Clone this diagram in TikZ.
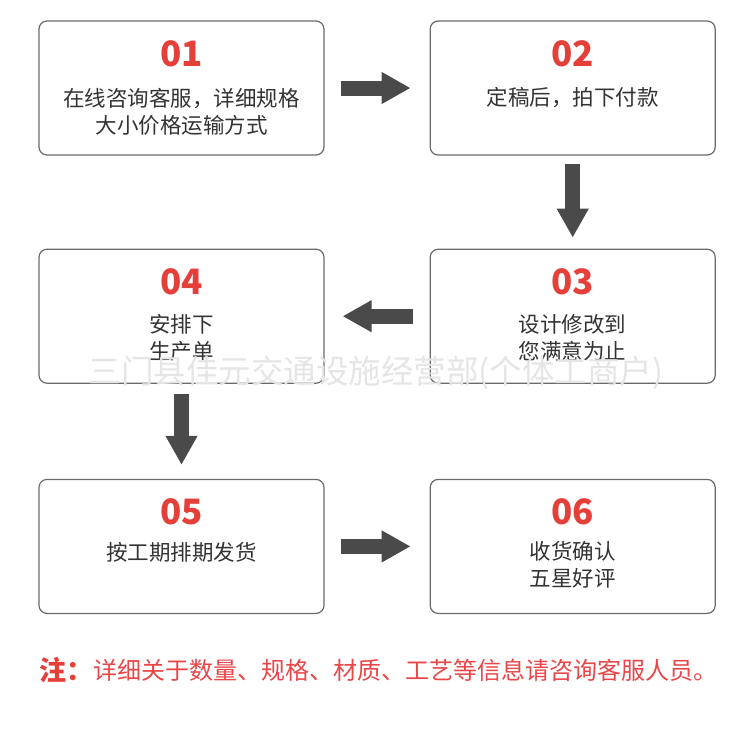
\documentclass[tikz,border=0pt]{standalone}
\usepackage{fontspec}
\setmainfont{Noto Sans CJK SC}
\usepackage{xcolor}
\usetikzlibrary{arrows.meta,positioning}
\definecolor{stepred}{HTML}{E53F3A}
\definecolor{notered}{HTML}{E8474A}
\definecolor{inkgray}{HTML}{333333}
\definecolor{framegray}{HTML}{6A6A6A}
\definecolor{arrowgray}{HTML}{4A4A4A}

\begin{document}
\begin{tikzpicture}[
    box/.style={rounded corners=8pt,draw=framegray,line width=1.2pt,fill=white,
      minimum width=285pt,minimum height=134pt,inner sep=0pt},
    num/.style={text=stepred,font=\fontsize{35}{35}\selectfont\bfseries,inner sep=0pt},
    txt/.style={text=inkgray,font=\fontsize{21.5}{27}\selectfont,align=center,inner sep=0pt},
    flow/.style={draw=arrowgray,line width=15pt,
      -{Triangle[length=29pt,width=30pt]}}]
  \useasboundingbox[fill=white] (0,0) rectangle (750pt,-732pt);
  \node[box] (b1) at (181.5pt,-88pt) {};
  \node[box,right=105pt of b1] (b2) {};
  \node[box,below=93pt of b2] (b3) {};
  \node[box,left=105pt of b3] (b4) {};
  \node[box,below=95pt of b4] (b5) {};
  \node[box,right=105pt of b5] (b6) {};

  \node[num] (n1) at ([yshift=-33pt]b1.north) {01};
  \node[num] (n2) at ([yshift=-33pt]b2.north) {02};
  \node[num] (n3) at ([yshift=-33pt]b3.north) {03};
  \node[num] (n4) at ([yshift=-33pt]b4.north) {04};
  \node[num] (n5) at ([yshift=-33pt]b5.north) {05};
  \node[num] (n6) at ([yshift=-33pt]b6.north) {06};

  \node[txt] (t1) at ([yshift=-91pt]b1.north) {在线咨询客服，详细规格\\大小价格运输方式};
  \node[txt] (t2) at ([yshift=-77pt]b2.north) {定稿后，拍下付款};
  \node[txt] (t3) at ([yshift=-89pt]b3.north) {设计修改到\\您满意为止};
  \node[txt] (t4) at ([yshift=-89pt]b4.north) {安排下\\生产单};
  \node[txt] (t5) at ([yshift=-74pt]b5.north) {按工期排期发货};
  \node[txt] (t6) at ([yshift=-86pt]b6.north) {收货确认\\五星好评};

  \draw[flow,shorten <=16pt,shorten >=19pt] (b1) -- (b2);
  \draw[flow,shorten <=8pt,shorten >=11pt] (b2) -- (b3);
  \draw[flow,shorten <=17pt,shorten >=18pt] (b3) -- (b4);
  \draw[flow,shorten <=10pt,shorten >=14pt] (b4) -- (b5);
  \draw[flow,shorten <=16pt,shorten >=19pt] (b5) -- (b6);

  \node[text=black!10,font=\fontsize{32.5}{32.5}\selectfont,inner sep=0pt] (mark)
    at (376pt,-373pt) {三门县佳元交通设施经营部(个体工商户)};

  \node[anchor=west,text=stepred,font=\fontsize{27}{27}\selectfont\bfseries,inner sep=0pt]
    (zhu) at (39pt,-670pt) {注：};
  \node[right=0pt of zhu,text=notered,font=\fontsize{24}{24}\selectfont,inner sep=0pt]
    (note) {详细关于数量、规格、材质、工艺等信息请咨询客服人员。};
\end{tikzpicture}
\end{document}
